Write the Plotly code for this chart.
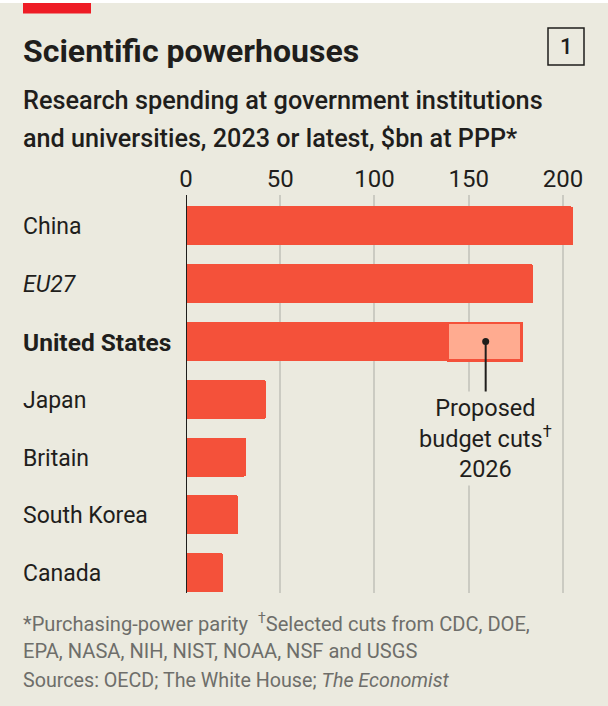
import plotly.graph_objects as go

# values, $bn at PPP
countries = ["China", "EU27", "United States", "Japan", "Britain", "South Korea", "Canada"]
labels = ["China", "<i>EU27</i>", "<b>United States</b>", "Japan", "Britain", "South Korea", "Canada"]
label_sizes = [23, 23, 24.5, 23, 23, 23, 23]
spending = [204.5, 183.5, 139, 42, 31, 27, 19]
cuts = [0, 0, 39, 0, 0, 0, 0]
x_ticks = [0, 50, 100, 150, 200]

W, H = 608, 706
BG = "#EBEADF"
RED = "#F4513A"
INK = "#1F1E1C"
GREY = "#6E6E6A"
FONT = "Roboto"

fig = go.Figure()
fig.add_trace(go.Bar(y=countries, x=spending, orientation="h", marker=dict(color=RED, line_width=0), width=0.675))
fig.add_trace(go.Bar(y=countries, x=cuts, orientation="h", width=0.65,
                     marker=dict(color="#FFAB90", line=dict(color=RED, width=2.5))))
fig.add_trace(go.Scatter(x=[159], y=["United States"], mode="markers", marker=dict(color=INK, size=7), hoverinfo="skip"))

fig.update_layout(
    width=W, height=H, barmode="stack", showlegend=False,
    paper_bgcolor=BG, plot_bgcolor=BG,
    margin=dict(l=0, r=0, t=0, b=0, autoexpand=False),
    font=dict(family=FONT, color=INK),
)
fig.update_xaxes(domain=[186 / W, 1], range=[0, 223.9], side="top", anchor="y", automargin=False,
                 tickvals=x_ticks, ticks="", showline=False, zeroline=False, ticklabelstandoff=2,
                 gridcolor="#CBCBC2", gridwidth=1.5, tickfont=dict(size=24, color=INK))
fig.update_yaxes(domain=[1 - 593 / H, 1 - 195 / H], range=[6.35, -0.536], showticklabels=False, automargin=False,
                 showgrid=False, zeroline=False, showline=False, ticks="")


def text(x, y, s, size, color=INK, anchor="left", weight=None):
    fig.add_annotation(xref="paper", yref="paper", x=x / W, y=1 - y / H, text=s, showarrow=False,
                       xanchor=anchor, yanchor="middle", align=anchor, borderpad=0, borderwidth=0,
                       font=dict(size=size, color=color, family=FONT, weight=weight))


text(23, 51, "<b>Scientific powerhouses</b>", 32)
text(23, 100, "Research spending at government institutions", 25.3, weight=500)
text(23, 138, "and universities, 2023 or latest, $bn at PPP*", 25.2, weight=500)
text(566, 46, "1", 22, anchor="center", weight=500)

for i, lab in enumerate(labels):
    fig.add_annotation(xref="paper", yref="y", x=22 / W, y=i, yshift=-1, text=lab, showarrow=False, xanchor="left", borderpad=0,
                       font=dict(size=label_sizes[i], color=INK, family=FONT))

fig.add_annotation(xref="x", yref="paper", x=159, y=1 - 438 / H, text="Proposed<br>budget cuts<sup>†</sup><br>2026",
                   showarrow=False, font=dict(size=23.5, color=INK, family=FONT), align="center",
                   bgcolor=BG, borderpad=2)

text(23, 623, "*Purchasing-power parity  <sup>†</sup>Selected cuts from CDC, DOE,", 20.1, GREY)
text(23, 651, "EPA, NASA, NIH, NIST, NOAA, NSF and USGS", 20.1, GREY)
text(23, 680, "Sources: OECD; The White House; <i>The Economist</i>", 19.7, GREY)

# page furniture
fig.add_shape(type="rect", xref="paper", yref="paper", x0=0, x1=1, y0=1 - 3 / H, y1=1, fillcolor="white", line_width=0)
fig.add_shape(type="rect", xref="paper", yref="paper", x0=23 / W, x1=91 / W, y0=1 - 13.5 / H, y1=1 - 3 / H,
              fillcolor="#EE1C25", line_width=0)
fig.add_shape(type="rect", xref="paper", yref="paper", x0=548 / W, x1=584 / W, y0=1 - 65 / H, y1=1 - 28 / H,
              line=dict(color=INK, width=1.5))
# baseline
fig.add_shape(type="line", xref="x", yref="paper", x0=0, x1=0, y0=1 - 593 / H, y1=1 - 195 / H,
              line=dict(color=INK, width=2), layer="above")
# pointer into the cuts segment
fig.add_shape(type="line", xref="x", yref="y", x0=159, x1=159, y0=2.03, y1=2.9, line=dict(color=INK, width=2), layer="above")

fig.write_html("out.html", config={"displayModeBar": False}, post_script="document.body.style.margin='0';")
